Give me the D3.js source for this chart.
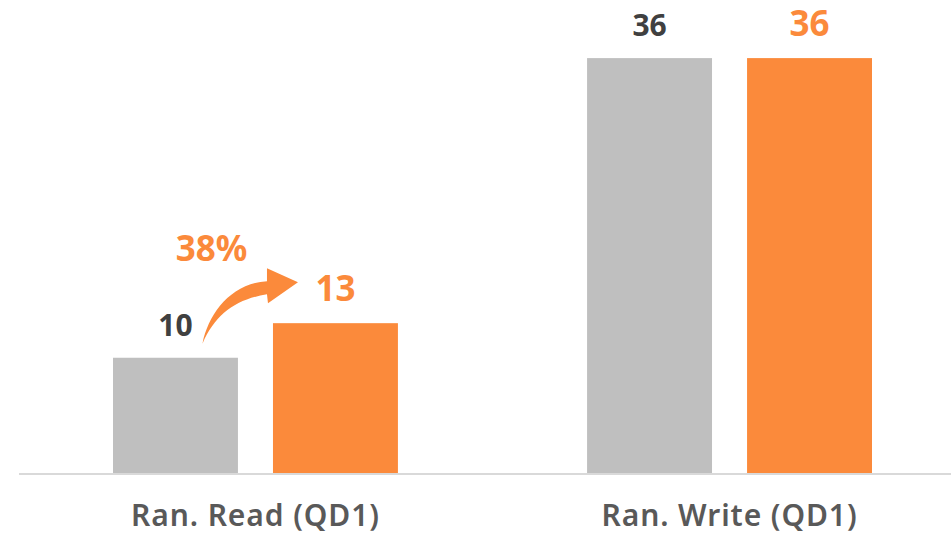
<!DOCTYPE html>
<html>
<head>
<meta charset="utf-8">
<script src="https://cdn.jsdelivr.net/npm/d3@7"></script>
<style>
  body { margin: 0; background: #fff; }
  svg { display: block; font-family: "Noto Sans", sans-serif; }
</style>
</head>
<body>
<svg id="chart"></svg>
<script>
// chart values
var categories = ["Ran. Read (QD1)", "Ran. Write (QD1)"]
var series = ["before", "after"]
var before_vals = [10, 36]
var after_vals = [13, 36]
var growth_label = "38%"

var colors = { before: "#bfbfbf", after: "#fb8a3b" }
var label_colors = { before: "#404040", after: "#fb8a3b" }

var width = 951, height = 536
var baseline = 473

var svg = d3.select("#chart")
    .attr("width", width)
    .attr("height", height)

var x = d3.scaleBand()
    .domain(categories)
    .range([113, 872])
    .paddingInner(0.399)
    .paddingOuter(0)

var xs = d3.scaleBand()
    .domain(series)
    .range([0, x.bandwidth()])
    .paddingInner(0.219)

var y = d3.scaleLinear()
    .domain([0, 40])
    .range([baseline, 12])

var data = categories.map(function(c, i) {
    return { cat: c, values: [
        { key: "before", value: before_vals[i] },
        { key: "after", value: after_vals[i] }
    ]}
})

// baseline
svg.append("line")
    .attr("x1", 19).attr("x2", width)
    .attr("y1", baseline + 1).attr("y2", baseline + 1)
    .attr("stroke", "#d9d9d9")
    .attr("stroke-width", 2)

var groups = svg.selectAll(".grp")
    .data(data)
    .enter()
    .append("g")
    .attr("class", "grp")
    .attr("transform", function(d) { return "translate(" + x(d.cat) + ",0)" })

groups.selectAll("rect")
    .data(function(d) { return d.values })
    .enter()
    .append("rect")
    .attr("x", function(d) { return xs(d.key) })
    .attr("width", xs.bandwidth())
    .attr("y", function(d) { return y(d.value) })
    .attr("height", function(d) { return baseline - y(d.value) })
    .attr("fill", function(d) { return colors[d.key] })

groups.selectAll(".val")
    .data(function(d) { return d.values })
    .enter()
    .append("text")
    .attr("class", "val")
    .attr("x", function(d) { return xs(d.key) + xs.bandwidth() / 2 })
    .attr("y", function(d) { return y(d.value) - 22 })
    .attr("text-anchor", "middle")
    .attr("font-weight", 700)
    .attr("font-size", function(d) { return d.key == "after" ? 35 : 30 })
    .attr("fill", function(d) { return label_colors[d.key] })
    .text(function(d) { return d.value })

// category labels
var xAxis = d3.axisBottom(x).tickSize(0).tickPadding(0)
var ax = svg.append("g")
    .attr("transform", "translate(0," + baseline + ")")
    .call(xAxis)
ax.select(".domain").remove()
ax.selectAll("text")
    .attr("dy", 0)
    .attr("y", 53)
    .attr("font-family", "Noto Sans, sans-serif")
    .attr("font-size", 30)
    .attr("font-weight", 600)
    .attr("letter-spacing", 0.9)
    .attr("fill", "#595959")

// growth arrow between first pair
var x0 = x(categories[0])
var sx = x0 + xs("before") + xs.bandwidth() / 2 + 27   // tail
var sy = y(before_vals[0]) - 14
var tx = x0 + xs("after") + 25                          // tip
var ty = y(after_vals[0]) - 41
var hx = tx - 31                                         // head base x

var p = d3.path()
p.moveTo(sx, sy)
p.bezierCurveTo(sx + 6, sy - 30, sx + 28, sy - 60, hx, ty - 1)
p.lineTo(hx, ty - 14)
p.lineTo(tx, ty)
p.lineTo(hx + 1, ty + 21)
p.lineTo(hx, ty + 12)
p.bezierCurveTo(sx + 33, sy - 44, sx + 13, sy - 30, sx, sy)
p.closePath()

svg.append("path")
    .attr("d", p.toString())
    .attr("fill", colors.after)

svg.append("text")
    .attr("x", x0 + xs("before") + xs.bandwidth() / 2 + 36)
    .attr("y", 261)
    .attr("text-anchor", "middle")
    .attr("font-weight", 700)
    .attr("font-size", 35)
    .attr("fill", colors.after)
    .text(growth_label)
</script>
</body>
</html>
